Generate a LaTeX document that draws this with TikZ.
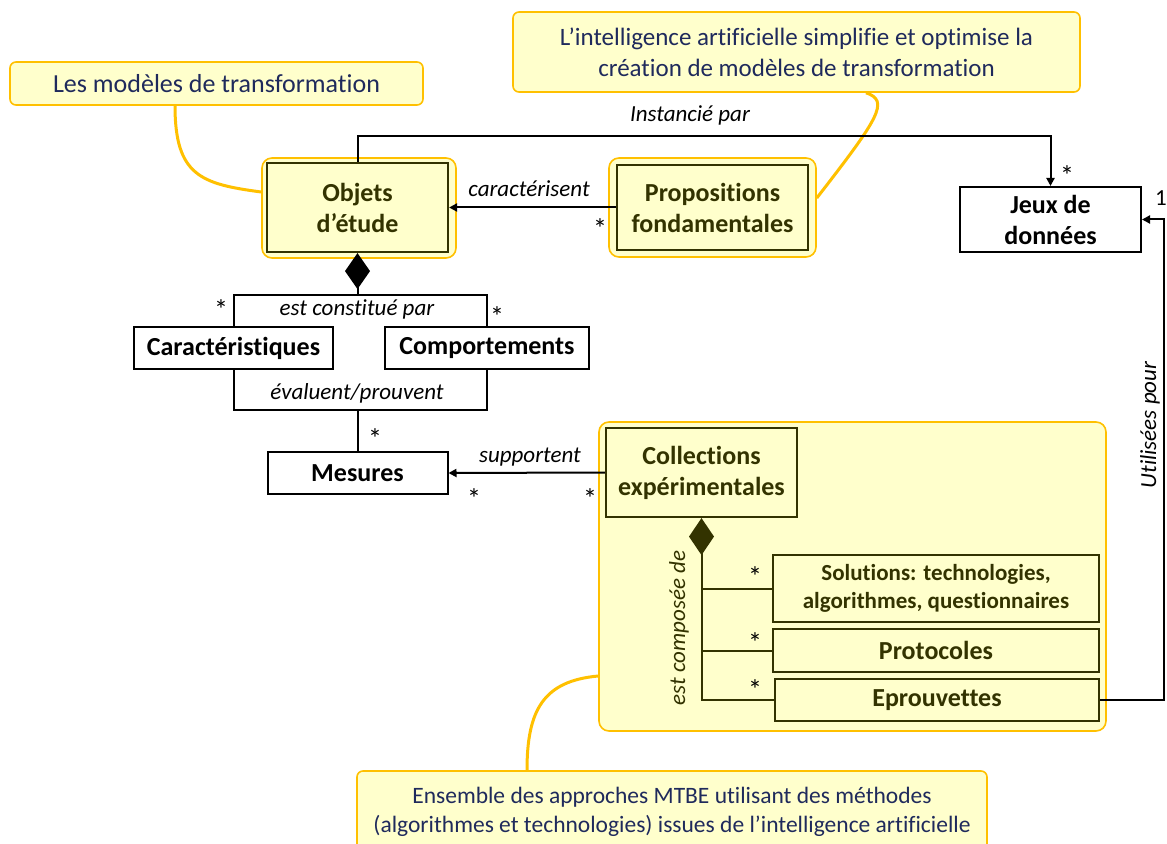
\documentclass[tikz,border=0pt]{standalone}
\usepackage{fontspec}
\setmainfont{Carlito}[Ligatures={TeX,NoCommon}]
\usetikzlibrary{arrows.meta,calc}
\definecolor{notefill}{HTML}{FFFFCC}
\definecolor{noteline}{HTML}{FFC000}
\definecolor{notetext}{HTML}{1F2A5C}
\definecolor{olivedark}{HTML}{333300}

\begin{document}
\begin{tikzpicture}[x=0.5pt,y=-0.5pt,
  notebox/.style={draw=noteline,fill=notefill,line width=0.8pt,rounded corners=3pt,text=notetext,align=center,inner sep=0pt},
  noteconn/.style={draw=noteline,line width=1.5pt},
  grpbox/.style={draw=noteline,fill=notefill,line width=0.8pt,rounded corners=5pt,inner sep=0pt},
  yellowbox/.style={draw=olivedark,fill=notefill,line width=1.1pt,text=olivedark,font=\fontsize{13}{15.5}\selectfont\bfseries,align=center,inner sep=0pt},
  whitebox/.style={draw,fill=white,line width=1pt,font=\fontsize{13}{15.5}\selectfont\bfseries,align=center,inner sep=0pt},
  assoc/.style={line width=1pt},
  arrowto/.style={-{Triangle[length=4pt,width=4pt]}},
  lbl/.style={font=\fontsize{11.5}{14}\selectfont\itshape,inner sep=0pt},
  mult/.style={font=\fontsize{14}{16}\selectfont,inner sep=0pt},
  multnum/.style={font=\fontsize{11.5}{14}\selectfont,inner sep=0pt}]
\useasboundingbox (0,0) rectangle (1167,844);
\clip (0,0) rectangle (1167,844);

\node[notebox,minimum width=206.5pt,minimum height=21.5pt,font=\fontsize{13}{15.5}\selectfont] (lesmodeles) at (216.5,83.5) {Les modèles de transformation};
\node[notebox,minimum width=283.5pt,minimum height=40pt,font=\fontsize{12.5}{15.5}\selectfont] (iacallout) at (796.5,52) {L’intelligence artificielle simplifie et optimise la\\création de modèles de transformation};
\node[notebox,minimum width=315pt,minimum height=40.5pt,font=\fontsize{11.75}{14.5}\selectfont] (mtbe) at (672,811.5) {Ensemble des approches MTBE utilisant des méthodes\\(algorithmes et technologies) issues de l’intelligence artificielle};

\node[grpbox,minimum width=97pt,minimum height=50pt] (objgrp) at (359,208) {};
\node[grpbox,minimum width=103.5pt,minimum height=49.5pt] (propgrp) at (712.5,207.5) {};
\node[grpbox,minimum width=253.5pt,minimum height=154.5pt] (colgrp) at (852.5,576.5) {};

\draw[noteconn] ($(lesmodeles.south)+(-41.5,0)$) .. controls +(0,70) and +(-60,-8) .. ($(objgrp.west)+(0,-16)$);
\draw[noteconn] ($(iacallout.south)+(69.5,0)$) .. controls +(24,8) and +(62,-80) .. ($(propgrp.east)+(0,-9.5)$);
\draw[noteconn] ($(colgrp.west)+(0,99.5)$) .. controls +(-55,5) and +(0,-60) .. ($(mtbe.north)+(-145,0)$);

\node[yellowbox,minimum width=90.5pt,minimum height=44.5pt] (obj) at (357.5,207.5) {Objets\\d’étude};
\node[yellowbox,minimum width=95.5pt,minimum height=42.5pt] (prop) at (712.5,207.5) {Propositions\\fondamentales};
\node[whitebox,minimum width=90.5pt,minimum height=32.5pt] (jeux) at (1050.5,219.5) {Jeux de\\données};
\node[whitebox,minimum width=99.5pt,minimum height=21pt] (carac) at (233.5,348) {Caractéristiques};
\node[whitebox,minimum width=102pt,minimum height=21pt] (comport) at (487,348) {Comportements};
\node[whitebox,minimum width=90pt,minimum height=21pt] (mesures) at (357.5,473) {Mesures};
\node[yellowbox,minimum width=95.5pt,minimum height=44.5pt] (collections) at (701.5,472.5) {Collections\\expérimentales};
\node[yellowbox,minimum width=163pt,minimum height=33.5pt,font=\fontsize{11.5}{14}\selectfont\bfseries] (solutions) at (936,588.5) {Solutions: technologies,\\algorithmes, questionnaires};
\node[yellowbox,minimum width=163pt,minimum height=21.5pt] (protocoles) at (936,650.5) {Protocoles};
\node[yellowbox,minimum width=162pt,minimum height=21pt] (eprouvettes) at (937,700) {Eprouvettes};

\coordinate (topbar) at (357.5,295);
\coordinate (lowbar) at (357.5,410);
\draw[assoc,arrowto] (obj.north) -- ++(0,-26) -| (jeux.north);
\draw[assoc,arrowto] (prop.west) -- (obj.east);
\draw[assoc,arrowto] (collections.west) -- (mesures.east);
\draw[assoc,arrowto] (eprouvettes.east) -- ++(64,0) |- (jeux.east);
\draw[assoc,{Diamond[length=18pt,width=12.5pt]}-] (obj.south) -- (topbar);
\draw[assoc] (carac.north) |- (topbar) -| (comport.north);
\draw[assoc] (carac.south) |- (lowbar) -| (comport.south);
\draw[assoc] (lowbar) -- (mesures.north);
\draw[assoc,draw=olivedark,{Diamond[length=18.5pt,width=12.5pt]}-] (collections.south) |- (eprouvettes.west);
\draw[assoc,draw=olivedark] (collections.south |- solutions.west) -- (solutions.west);
\draw[assoc,draw=olivedark] (collections.south |- protocoles.west) -- (protocoles.west);

\node[lbl] (lblinst) at (690,115) {Instancié par};
\node[lbl] (lblcarac) at (529,189) {caractérisent};
\node[lbl] (lblconst) at (357,309) {est constitué par};
\node[lbl] (lbleval) at (357,393) {évaluent/prouvent};
\node[lbl] (lblsupp) at (530,457) {supportent};
\node[lbl,rotate=90] (lblutil) at (1150,425) {Utilisées pour};
\node[lbl,rotate=90,text=olivedark] (lblcompo) at (679,628) {est composée de};

\node[mult] (multjeux) at (1067,176) {*};
\node[mult] (multprop) at (600,229) {*};
\node[mult] (multcarac) at (221,310) {*};
\node[mult] (multcomp) at (497,317) {*};
\node[mult] (multeval) at (375,439) {*};
\node[mult] (multmes) at (474,499) {*};
\node[mult] (multcol) at (590,499) {*};
\node[mult] (multsol) at (755,577) {*};
\node[mult] (multprot) at (755,643) {*};
\node[mult] (multepr) at (755,690) {*};
\node[multnum] (multone) at (1161,198) {1};
\end{tikzpicture}
\end{document}
